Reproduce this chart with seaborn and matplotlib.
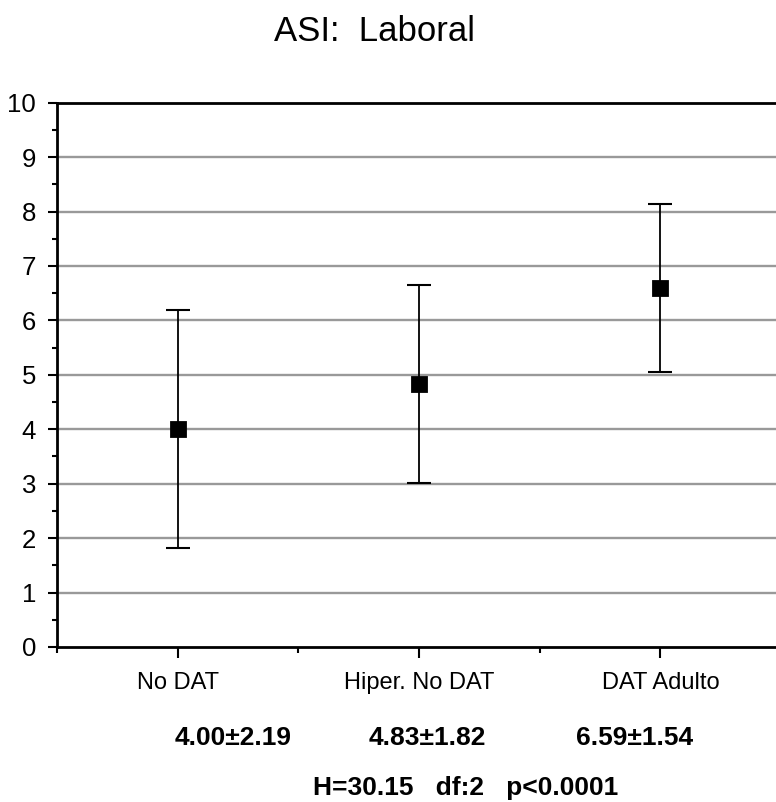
import matplotlib
matplotlib.use("Agg")
import matplotlib.pyplot as plt
from matplotlib.ticker import MultipleLocator, FixedLocator
import seaborn as sns
import pandas as pd

# Group summaries: mean and standard deviation of the ASI work-domain score
groups = ["No DAT", "Hiper. No DAT", "DAT Adulto"]
means = [4.00, 4.83, 6.59]
sds = [2.19, 1.82, 1.54]
stats_line = "H=30.15   df:2   p<0.0001"
title = "ASI:  Laboral"

df = pd.DataFrame({"group": groups, "mean": means, "sd": sds})

sns.set_theme(style="white")
plt.rcParams["font.family"] = ["Liberation Sans", "DejaVu Sans"]

fig = plt.figure(figsize=(7.76, 8.02), dpi=100)
ax = fig.add_axes([57 / 776, 155 / 802, 724 / 776, 544.3 / 802])

# error bars (mean ± sd)
ax.errorbar(x=range(len(groups)), y=df["mean"], yerr=df["sd"], fmt="none",
            ecolor="black", elinewidth=1.3, capsize=8.5, capthick=1.5, zorder=3)

# mean markers
sns.pointplot(data=df, x="group", y="mean", ax=ax, order=groups,
              color="black", markers="s", linestyles="none", errorbar=None,
              markersize=10.5, zorder=4)

ax.set_xlim(-0.5, 2.5)
ax.set_ylim(0, 10)
ax.set_xlabel("")
ax.set_ylabel("")

# horizontal grid
ax.yaxis.set_major_locator(MultipleLocator(1))
ax.yaxis.set_minor_locator(MultipleLocator(0.5))
ax.grid(False)
for v in range(1, 10):
    ax.axhline(v, color="#999999", lw=1.7, zorder=1)

ax.xaxis.set_minor_locator(FixedLocator([-0.5, 0.5, 1.5, 2.5]))

for side in ["left", "bottom", "top"]:
    ax.spines[side].set_visible(True)
    ax.spines[side].set_color("black")
    ax.spines[side].set_linewidth(2)
ax.spines["right"].set_visible(False)

ax.tick_params(axis="y", which="major", direction="out", length=6.5, width=1.5,
               color="black", pad=8.5, labelsize=18.5, left=True, labelcolor="black")
ax.tick_params(axis="y", which="minor", direction="out", length=3.4, width=1.5,
               color="black", left=True)
ax.tick_params(axis="x", which="major", direction="out", length=8, width=1.5,
               color="black", pad=10, labelsize=17, bottom=True, labelcolor="black")
ax.tick_params(axis="x", which="minor", direction="out", length=4.3, width=1.5,
               color="black", bottom=True)

# title and summary text
fig.text(375 / 776, 1 - 41 / 802, title, ha="center", va="baseline",
         fontsize=25, color="black")
label_x = [233, 427, 635]
for xp, m, s in zip(label_x, means, sds):
    fig.text(xp / 776, 1 - 745 / 802, f"{m:.2f}±{s:.2f}", ha="center",
             va="baseline", fontsize=19, fontweight="bold", color="black")
fig.text(465.5 / 776, 1 - 795 / 802, stats_line, ha="center", va="baseline",
         fontsize=19, fontweight="bold", color="black")

fig.savefig("out.png", dpi=100, facecolor="white")
